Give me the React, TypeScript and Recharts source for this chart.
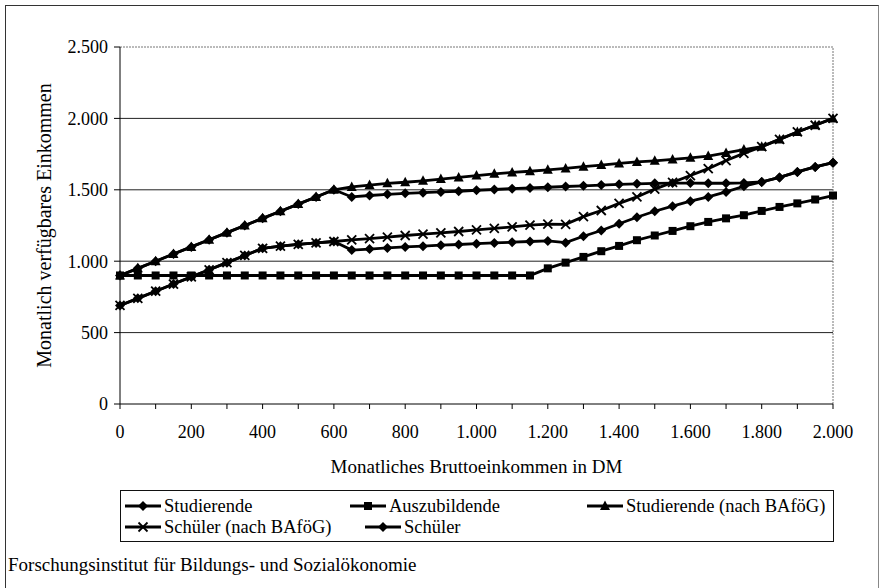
import React from "react"
import { CartesianGrid, Line, LineChart, ReferenceLine, XAxis, YAxis } from "recharts"

const FONT = '"Liberation Serif", "Times New Roman", serif'

// Monatliches Bruttoeinkommen in DM (50-DM-Schritte)
const incomes = [
  0, 50, 100, 150, 200, 250, 300, 350, 400, 450, 500, 550, 600, 650, 700, 750, 800, 850, 900, 950, 1000,
  1050, 1100, 1150, 1200, 1250, 1300, 1350, 1400, 1450, 1500, 1550, 1600, 1650, 1700, 1750, 1800, 1850,
  1900, 1950, 2000,
]

const studierende = [
  900, 950, 1000, 1050, 1100, 1150, 1200, 1250, 1300, 1350, 1400, 1450, 1500, 1450, 1460, 1468, 1475, 1480,
  1485, 1490, 1497, 1502, 1508, 1513, 1518, 1523, 1528, 1533, 1538, 1542, 1545, 1547, 1547, 1546, 1546,
  1548, 1555, 1587, 1625, 1660, 1690,
]

const auszubildende = [
  900, 900, 900, 900, 900, 900, 900, 900, 900, 900, 900, 900, 900, 900, 900, 900, 900, 900, 900, 900, 900,
  900, 900, 900, 950, 990, 1030, 1070, 1107, 1147, 1180, 1212, 1245, 1275, 1300, 1322, 1352, 1380, 1405,
  1432, 1460,
]

const studierendeBafoeg = [
  900, 950, 1000, 1050, 1100, 1150, 1200, 1250, 1300, 1350, 1400, 1450, 1500, 1520, 1533, 1545, 1553, 1563,
  1575, 1587, 1600, 1612, 1622, 1630, 1640, 1650, 1662, 1673, 1685, 1695, 1703, 1713, 1724, 1736, 1758,
  1782, 1802, 1853, 1905, 1952, 2000,
]

const schuelerBafoeg = [
  690, 740, 790, 840, 890, 940, 990, 1040, 1090, 1105, 1118, 1128, 1138, 1150, 1158, 1168, 1180, 1190, 1198,
  1208, 1220, 1230, 1240, 1252, 1260, 1258, 1312, 1355, 1405, 1450, 1505, 1552, 1600, 1648, 1705, 1755,
  1802, 1853, 1905, 1952, 2000,
]

const schueler = [
  690, 740, 790, 840, 890, 940, 990, 1040, 1090, 1105, 1118, 1128, 1138, 1078, 1085, 1093, 1100, 1105, 1112,
  1117, 1123, 1128, 1133, 1138, 1142, 1130, 1175, 1215, 1262, 1308, 1350, 1385, 1420, 1450, 1485, 1525,
  1555, 1587, 1625, 1660, 1690,
]

const xTicks = [
  0, 100, 200, 300, 400, 500, 600, 700, 800, 900, 1000, 1100, 1200, 1300, 1400, 1500, 1600, 1700, 1800, 1900,
  2000,
]
const yTicks = [0, 500, 1000, 1500, 2000, 2500]
const gridLines = [500, 1000, 1500, 2000]

const data = incomes.map((income, i) => ({
  income,
  studierende: studierende[i],
  auszubildende: auszubildende[i],
  studierendeBafoeg: studierendeBafoeg[i],
  schuelerBafoeg: schuelerBafoeg[i],
  schueler: schueler[i],
}))

type Shape = "diamond" | "square" | "triangle" | "cross"

const series: { key: string; name: string; shape: Shape }[] = [
  { key: "auszubildende", name: "Auszubildende", shape: "square" },
  { key: "schueler", name: "Schüler", shape: "diamond" },
  { key: "schuelerBafoeg", name: "Schüler (nach BAföG)", shape: "cross" },
  { key: "studierendeBafoeg", name: "Studierende (nach BAföG)", shape: "triangle" },
  { key: "studierende", name: "Studierende", shape: "diamond" },
]

// German thousands separator: 1.000, 2.500
const de = (v: number) => {
  const s = String(v)
  return s.length > 3 ? s.slice(0, -3) + "." + s.slice(-3) : s
}

function Marker({ shape, cx, cy }: { shape: Shape; cx: number; cy: number }) {
  if (shape === "diamond") {
    const s = 5
    return <path d={`M${cx},${cy - s}L${cx + s},${cy}L${cx},${cy + s}L${cx - s},${cy}Z`} fill="#000" />
  }
  if (shape === "square") {
    return <rect x={cx - 4} y={cy - 4} width={8} height={8} fill="#000" />
  }
  if (shape === "triangle") {
    return <path d={`M${cx},${cy - 5.5}L${cx + 5},${cy + 4}L${cx - 5},${cy + 4}Z`} fill="#000" />
  }
  const s = 4.5
  return (
    <g stroke="#000" strokeWidth={1.8}>
      <line x1={cx - s} y1={cy - s} x2={cx + s} y2={cy + s} />
      <line x1={cx - s} y1={cy + s} x2={cx + s} y2={cy - s} />
    </g>
  )
}

const dotFor = (shape: Shape) => (p: any) => {
  if (p.cx == null || p.cy == null) return <g key={`${shape}-${p.index}`} />
  return <Marker key={`${shape}-${p.index}`} shape={shape} cx={p.cx} cy={p.cy} />
}

function LegendItem({ name, shape, left, top }: { name: string; shape: Shape; left: number; top: number }) {
  return (
    <div style={{ position: "absolute", left, top, height: 22, display: "flex", alignItems: "center", whiteSpace: "nowrap" }}>
      <svg width={36} height={14} style={{ marginRight: 3 }}>
        <line x1={0} y1={7} x2={36} y2={7} stroke="#000" strokeWidth={2.8} />
        <Marker shape={shape} cx={18} cy={7} />
      </svg>
      <span>{name}</span>
    </div>
  )
}

export default function App() {
  return (
    <div
      style={{
        position: "absolute",
        left: 0,
        top: 0,
        width: 882,
        height: 588,
        background: "#fff",
        overflow: "hidden",
        fontFamily: FONT,
        color: "#000",
      }}
    >
      <div
        style={{
          position: "absolute",
          left: 5,
          top: 5,
          width: 872,
          height: 640,
          borderLeft: "1.5px solid #333",
          borderTop: "1.5px solid #333",
          borderRight: "1px solid #888",
        }}
      />
      <div style={{ position: "absolute", left: 0, top: 0 }}>
        <LineChart
          width={882}
          height={588}
          data={data}
          margin={{ top: 47, right: 49, left: 40, bottom: 114 }}
          style={{ fontFamily: FONT }}
        >
          <CartesianGrid vertical={false} horizontalValues={gridLines} stroke="#222" strokeWidth={1} />
          <ReferenceLine y={2500} stroke="#777" strokeDasharray="2 1" />
          <ReferenceLine x={2000} stroke="#777" strokeDasharray="2 1" />
          <XAxis
            dataKey="income"
            type="number"
            domain={[0, 2000]}
            ticks={xTicks}
            interval={0}
            tickFormatter={(v: number) => (v % 200 === 0 ? de(v) : "")}
            tickSize={5}
            tickMargin={16}
            height={70}
            stroke="#000"
            tick={{ fill: "#000", fontSize: 18 }}
            label={{ value: "Monatliches Bruttoeinkommen in DM", position: "insideBottom", offset: 1, fill: "#000", fontSize: 19 }}
          />
          <YAxis
            type="number"
            domain={[0, 2500]}
            ticks={yTicks}
            interval={0}
            tickFormatter={de}
            tickSize={6}
            tickMargin={6}
            width={80}
            stroke="#000"
            tick={{ fill: "#000", fontSize: 18 }}
            label={{
              value: "Monatlich verfügbares Einkommen",
              angle: -90,
              position: "insideLeft",
              offset: 4,
              fill: "#000",
              fontSize: 20,
              style: { textAnchor: "middle" },
            }}
          />
          {series.map((s) => (
            <Line
              key={s.key}
              type="linear"
              dataKey={s.key}
              name={s.name}
              stroke="#000"
              strokeWidth={2.8}
              dot={dotFor(s.shape)}
              activeDot={false}
              isAnimationActive={false}
            />
          ))}
        </LineChart>
      </div>

      <div
        style={{
          position: "absolute",
          left: 120,
          top: 490,
          width: 714,
          height: 52,
          border: "1px solid #111",
          boxSizing: "border-box",
          fontSize: 18.5,
        }}
      >
        <LegendItem name="Studierende" shape="diamond" left={4} top={4} />
        <LegendItem name="Auszubildende" shape="square" left={229} top={4} />
        <LegendItem name="Studierende (nach BAföG)" shape="triangle" left={466} top={4} />
        <LegendItem name="Schüler (nach BAföG)" shape="cross" left={4} top={25} />
        <LegendItem name="Schüler" shape="diamond" left={244} top={25} />
      </div>

      <div style={{ position: "absolute", left: 8, top: 553, fontSize: 19, lineHeight: "24px", whiteSpace: "nowrap" }}>
        Forschungsinstitut für Bildungs- und Sozialökonomie
      </div>
    </div>
  )
}
